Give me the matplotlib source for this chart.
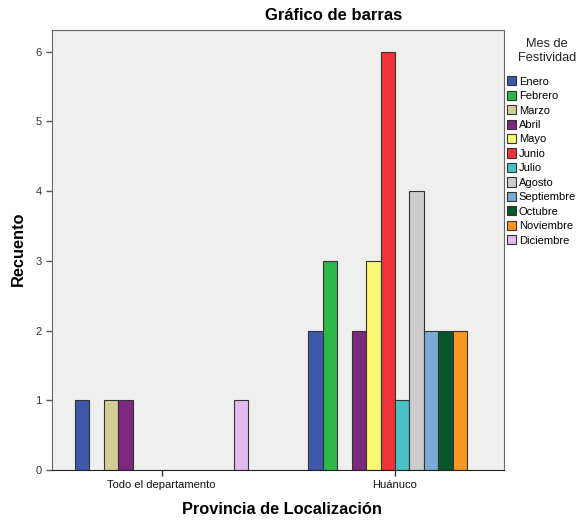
import numpy as np
import matplotlib
matplotlib.use('Agg')
import matplotlib.pyplot as plt
from matplotlib.patches import Patch

plt.rcParams['font.family'] = ['Liberation Sans', 'DejaVu Sans']

provincias = ['Todo el departamento', 'Huánuco']
meses = ['Enero', 'Febrero', 'Marzo', 'Abril', 'Mayo', 'Junio', 'Julio',
         'Agosto', 'Septiembre', 'Octubre', 'Noviembre', 'Diciembre']
colores = ['#3E58AC', '#2EB848', '#D3CE97', '#7C287D', '#FBF873', '#EF3338',
           '#48C2C5', '#CCCCCC', '#7BAAD7', '#0A562C', '#F8981D', '#E3BAF0']
todo_dep = [1, 0, 1, 1, 0, 0, 0, 0, 0, 0, 0, 1]
huanuco = [2, 3, 0, 2, 3, 6, 1, 4, 2, 2, 2, 0]

fig = plt.figure(figsize=(5.81, 5.21), dpi=100)
W, H = 581, 521
ax = fig.add_axes([52 / W, 1 - 470 / H, (504 - 52) / W, (470 - 30) / H])
ax.set_facecolor('#EFEFEF')

bw = 0.0619
n = len(meses)
counts = np.array([todo_dep, huanuco])
for j in range(n):
    xs = np.arange(len(provincias)) + (j - (n - 1) / 2) * bw
    for g in range(len(provincias)):
        # SPSS does not draw empty bars
        if counts[g, j] > 0:
            ax.bar(xs[g], counts[g, j], width=bw, color=colores[j],
                   edgecolor='#333333', linewidth=0.8, zorder=2)

ax.set_xlim(-0.470, 1.467)
ax.set_ylim(0, 6.31)
ax.set_xticks(range(len(provincias)))
ax.set_xticklabels(provincias, fontsize=8)
ax.set_yticks(range(7))
ax.tick_params(axis='y', labelsize=8, length=4, width=1, color='#555555', labelcolor='#333333')
ax.tick_params(axis='x', length=4, width=1, color='#333333', labelcolor='#111111')
for s in ['left', 'right', 'top']:
    ax.spines[s].set_color('#666666')
ax.spines['bottom'].set_color('#222222')

fig.text(334 / W, 1 - 16 / H, 'Gráfico de barras', ha='center', va='center',
         fontsize=12, fontweight='bold')
fig.text(282 / W, 1 - 510 / H, 'Provincia de Localización', ha='center', va='center',
         fontsize=11.8, fontweight='bold')
fig.text(18 / W, 1 - 249 / H, 'Recuento', ha='center', va='center', rotation=90,
         fontsize=11.8, fontweight='bold')

# legend title drawn separately to get SPSS spacing
fig.text(547 / W, 1 - 51 / H, 'Mes de\nFestividad', ha='center', va='center',
         fontsize=9.2, linespacing=1.2, multialignment='center', color='#222222')
handles = [Patch(facecolor=c, edgecolor='#333333', linewidth=0.8) for c in colores]
leg = fig.legend(handles, meses, loc='upper left', bbox_to_anchor=(505 / W, 1 - 74 / H),
                 fontsize=8, frameon=False, handlelength=0.8, handleheight=0.9,
                 handletextpad=0.25, labelspacing=0.36, borderpad=0.2, borderaxespad=0)

fig.savefig('out.png', dpi=100)
